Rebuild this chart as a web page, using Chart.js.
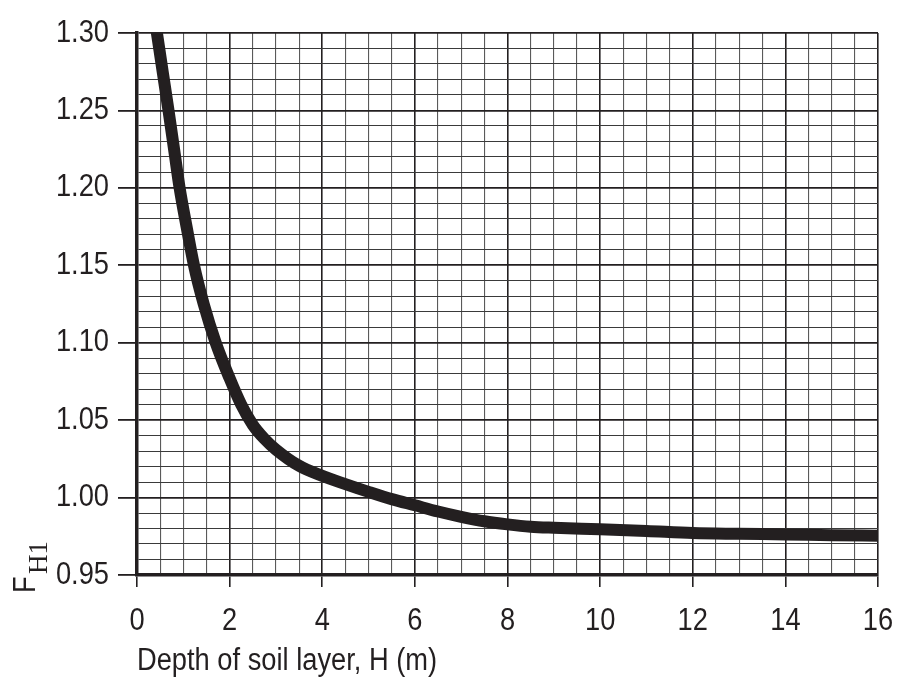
<!DOCTYPE html>
<html>
<head>
<meta charset="utf-8">
<script src="https://cdn.jsdelivr.net/npm/chart.js@4.4.1/dist/chart.umd.min.js"></script>
<style>
  body { margin: 0; background: #fff; }
  canvas { display: block; }
</style>
</head>
<body>
<canvas id="mycanvas" width="916" height="699"></canvas>
<script>
// depth of soil layer H (m)
var depth = [0.38, 0.43, 0.56, 0.68, 0.80, 0.92, 1.07, 1.23, 1.44, 1.70, 2.0, 2.25, 2.5, 2.75, 3.0, 3.5, 4.0, 4.5, 5.0, 5.5, 6.0, 6.5, 7.0, 7.5, 8.0, 8.5, 9.0, 10, 11, 12, 13, 14, 15, 16];
// factor F_H1
var fh1 = [1.31, 1.30, 1.274, 1.25, 1.225, 1.20, 1.175, 1.15, 1.125, 1.10, 1.077, 1.060, 1.047, 1.038, 1.031, 1.0205, 1.014, 1.0087, 1.0037, 0.999, 0.995, 0.991, 0.9876, 0.9847, 0.9827, 0.9812, 0.9805, 0.9795, 0.9784, 0.9771, 0.9766, 0.9762, 0.9757, 0.9753];
var xTicks = [0, 2, 4, 6, 8, 10, 12, 14, 16];
var yTicks = ['0.95', '1.00', '1.05', '1.10', '1.15', '1.20', '1.25', '1.30'];

var ink = '#231f20';
var fontFam = '"Liberation Sans", Arial, sans-serif';

var points = [];
for (var i = 0; i < depth.length; i++) {
  points.push({x: depth[i], y: fh1[i]});
}

function isMajorX(v) { return xTicks.indexOf(v) !== -1; }
function isMajorY(v) { return yTicks.indexOf(v.toFixed(2)) !== -1; }

var cv = document.getElementById('mycanvas');
var c2d = cv.getContext('2d');
// condensed look for the sans text (like a narrow face)
var baseFill = c2d.fillText;
c2d.fillText = function(t, x, y) {
  this.save();
  this.translate(x, y);
  this.scale(0.88, 1);
  baseFill.call(this, t, 0, 0);
  this.restore();
};

// y axis title F with subscript H1
var yTitle = {
  id: 'yTitle',
  afterDraw: function(chart) {
    var ctx = chart.ctx;
    var b = chart.chartArea.bottom;
    ctx.save();
    ctx.fillStyle = ink;
    ctx.translate(35, b + 18);
    ctx.rotate(-Math.PI / 2);
    ctx.textBaseline = 'alphabetic';
    ctx.textAlign = 'left';
    ctx.font = '31px ' + fontFam;
    ctx.fillText('F', 0, 0);
    ctx.font = '27px "Liberation Serif", "DejaVu Serif", serif';
    baseFill.call(ctx, 'H1', 19, 12);
    ctx.restore();
  }
};

var chart = new Chart(cv, {
  type: 'line',
  data: {
    datasets: [{
      label: 'FH1',
      data: points,
      borderColor: ink,
      borderWidth: 12,
      pointRadius: 0,
      fill: false,
      cubicInterpolationMode: 'monotone',
      clip: 0
    }]
  },
  options: {
    responsive: false,
    animation: false,
    devicePixelRatio: 1,
    layout: { padding: { left: 0, right: 38, top: 33, bottom: 0 } },
    plugins: {
      legend: { display: false },
      tooltip: { enabled: false }
    },
    scales: {
      x: {
        type: 'linear',
        min: 0,
        max: 16,
        afterFit: function(s) { s.height = 124; },
        border: { color: ink, width: 3.5 },
        grid: {
          color: function(c) { return isMajorX(c.tick.value) ? ink : '#5a5a5a'; },
          lineWidth: function(c) { return isMajorX(c.tick.value) ? 1.6 : 1.1; },
          tickColor: function(c) { return isMajorX(c.tick.value) ? ink : 'rgba(0,0,0,0)'; },
          tickWidth: 1.6,
          tickLength: 12
        },
        ticks: {
          stepSize: 0.5,
          autoSkip: false,
          maxRotation: 0,
          padding: 16,
          color: ink,
          font: { family: fontFam, size: 31 },
          callback: function(v) { return isMajorX(v) ? String(v) : ''; }
        },
        title: {
          display: true,
          text: 'Depth of soil layer, H (m)',
          align: 'start',
          color: ink,
          font: { family: fontFam, size: 31 },
          padding: { top: 0, bottom: 19 }
        }
      },
      y: {
        type: 'linear',
        min: 0.95,
        max: 1.30,
        afterFit: function(s) { s.width = 137; },
        border: { color: ink, width: 3.5 },
        grid: {
          color: function(c) { return isMajorY(c.tick.value) ? ink : '#3a3a3a'; },
          lineWidth: function(c) { return isMajorY(c.tick.value) ? 1.8 : 1.1; },
          tickColor: function(c) { return isMajorY(c.tick.value) ? ink : 'rgba(0,0,0,0)'; },
          tickWidth: 1.8,
          tickLength: 19
        },
        ticks: {
          stepSize: 0.01,
          autoSkip: false,
          padding: 9,
          color: ink,
          font: { family: fontFam, size: 31 },
          callback: function(v) { return isMajorY(v) ? v.toFixed(2) : ''; }
        }
      }
    }
  },
  plugins: [yTitle]
});
</script>
</body>
</html>
